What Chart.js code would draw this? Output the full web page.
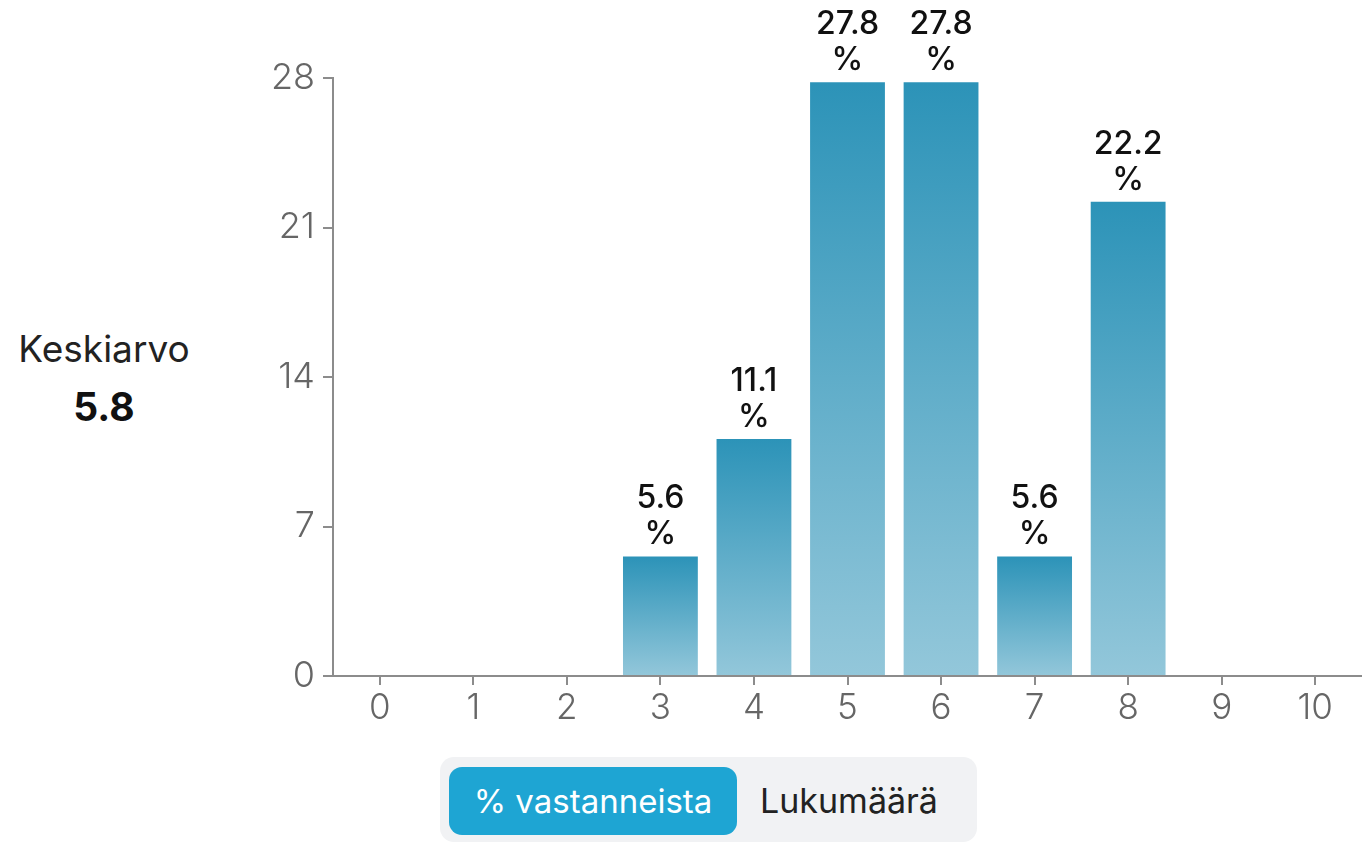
<!DOCTYPE html>
<html>
<head>
<meta charset="utf-8">
<script src="https://cdn.jsdelivr.net/npm/chart.js@4.4.1/dist/chart.umd.min.js"></script>
<style>
    body { margin: 0; width: 1362px; height: 842px; background: #fff; font-family: Inter, "Noto Sans", sans-serif; position: relative; overflow: hidden; }
    #chart-box { position: absolute; left: 240px; top: 0; width: 1122px; height: 731px; }
    #avg { position: absolute; left: 0; top: 325px; width: 208px; text-align: center; color: #222; }
    #avg .lbl { font-size: 37px; font-weight: 400; line-height: 48px; }
    #avg .val { font-size: 39px; font-weight: 700; margin-top: 10px; line-height: 48px; color: #111; }
    #toggle { position: absolute; left: 440px; top: 757px; width: 537px; height: 85px; background: #f1f2f4; border-radius: 14px; }
    #toggle .btn { position: absolute; top: 10px; height: 68px; line-height: 68px; font-size: 33px; }
    #toggle .on { left: 9px; width: 288px; background: #1ea5d3; color: #fff; border-radius: 13px; text-align: center; }
    #toggle .off { left: 320px; color: #222; font-size: 34px; }
</style>
</head>
<body>
<div id="avg"><div class="lbl">Keskiarvo</div><div class="val">5.8</div></div>
<div id="chart-box"><canvas id="barChart"></canvas></div>
<div id="toggle"><div class="btn on">% vastanneista</div><div class="btn off">Lukumäärä</div></div>
<script>
const categories = ['0', '1', '2', '3', '4', '5', '6', '7', '8', '9', '10'];
const percentValues = [0, 0, 0, 5.6, 11.1, 27.8, 27.8, 5.6, 22.2, 0, 0];
const yTicks = [0, 7, 14, 21, 28];

const axisGray = '#8c8c8c';

function barGradient(context) {
    var chart = context.chart;
    if (!chart.chartArea) return '#4aa3c4';
    var y = chart.scales.y;
    var top = y.getPixelForValue(context.raw);
    var bottom = y.getPixelForValue(0);
    if (bottom - top < 1) return '#4aa3c4';
    var g = chart.ctx.createLinearGradient(0, top, 0, bottom);
    g.addColorStop(0, '#2c93b8');
    g.addColorStop(1, '#93c7da');
    return g;
}

// labels above the bars, "27.8" over "%"
const barLabels = {
    id: 'barLabels',
    afterDatasetsDraw(chart) {
        var ctx = chart.ctx;
        var meta = chart.getDatasetMeta(0);
        ctx.save();
        ctx.fillStyle = '#111';
        ctx.textAlign = 'center';
        ctx.textBaseline = 'alphabetic';
        ctx.font = '500 32px Inter, "Noto Sans", sans-serif';
        meta.data.forEach(function(bar, i) {
            var v = percentValues[i];
            if (!v) return;
            ctx.fillText(v.toFixed(1), bar.x, bar.y - 48);
            ctx.fillText('%', bar.x, bar.y - 12);
        });
        ctx.restore();
    }
};

new Chart('barChart', {
    type: 'bar',
    data: {
        labels: categories,
        datasets: [{
            data: percentValues,
            backgroundColor: barGradient,
            borderWidth: 0,
            barPercentage: 0.8,
            categoryPercentage: 1.0
        }]
    },
    options: {
        responsive: true,
        maintainAspectRatio: false,
        animation: false,
        layout: { padding: { top: 78, right: 0, bottom: 0, left: 0 } },
        plugins: {
            legend: { display: false },
            tooltip: { enabled: false }
        },
        scales: {
            x: {
                grid: { offset: false, drawOnChartArea: false, drawTicks: true, tickLength: 9, color: axisGray, lineWidth: 2 },
                border: { display: true, color: axisGray, width: 2 },
                ticks: { color: '#666', font: { family: 'Inter, "Noto Sans", sans-serif', size: 35, weight: 300 }, padding: 2 }
            },
            y: {
                min: 0,
                max: 28,
                afterBuildTicks: function(scale) { scale.ticks = yTicks.map(function(v) { return { value: v }; }); },
                afterFit: function(scale) { scale.width = 93; },
                grid: { drawOnChartArea: false, drawTicks: true, tickLength: 10, color: axisGray, lineWidth: 2 },
                border: { display: true, color: axisGray, width: 2 },
                ticks: { color: '#666', font: { family: 'Inter, "Noto Sans", sans-serif', size: 36, weight: 300 }, padding: 8 }
            }
        }
    },
    plugins: [barLabels]
});
</script>
</body>
</html>
